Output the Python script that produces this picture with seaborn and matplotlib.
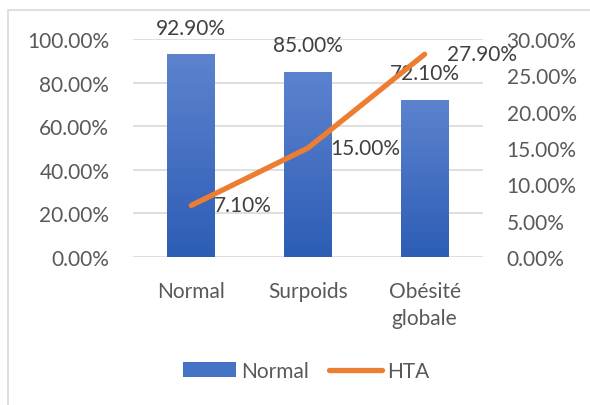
import numpy as np
import pandas as pd
import matplotlib
matplotlib.use("Agg")
import matplotlib.pyplot as plt
from matplotlib.patches import Rectangle, Patch
from matplotlib.lines import Line2D
from matplotlib.colors import LinearSegmentedColormap
from matplotlib.ticker import FuncFormatter, MultipleLocator
import seaborn as sns

# Data
categories = ["Normal", "Surpoids", "Obésité\nglobale"]
normal_pct = [92.9, 85.0, 72.1]
hta_pct = [7.1, 15.0, 27.9]

df = pd.DataFrame({"cat": categories, "normal": normal_pct, "hta": hta_pct,
                   "pos": np.arange(len(categories))})

sns.set_theme(style="white")
plt.rcParams["font.family"] = ["Lato", "DejaVu Sans"]

BLUE_TOP = "#5d83cf"
BLUE_BOT = "#2d5db5"
ORANGE = "#ed7d31"
GRID = "#d9d9d9"
TICK = "#595959"
LABEL = "#404040"

fig = plt.figure(figsize=(5.9, 4.06), dpi=100)
ax = fig.add_axes([0.2254, 0.3645, 0.5932, 0.537])

sns.barplot(data=df, x="cat", y="normal", color="#4472c4", width=0.41,
            ax=ax, saturation=1)

# Vertical gradient fill on each bar
cmap = LinearSegmentedColormap.from_list("bar", [BLUE_BOT, BLUE_TOP])
grad = np.linspace(0, 1, 256).reshape(-1, 1)
for p in ax.patches:
    x0, y0 = p.get_x(), p.get_y()
    w, h = p.get_width(), p.get_height()
    p.set_edgecolor("none")
    im = ax.imshow(grad, cmap=cmap, aspect="auto", origin="lower",
                   extent=(x0, x0 + w, y0, y0 + h), zorder=p.get_zorder() + 0.1)
    im.set_clip_path(p)

ax.set_xlim(-0.5, len(categories) - 0.5)
ax.set_ylim(0, 100)
ax.yaxis.set_major_locator(MultipleLocator(20))
ax.yaxis.set_major_formatter(FuncFormatter(lambda v, _: f"{v:.2f}%"))
ax.grid(axis="y", color=GRID, linewidth=1.2)
ax.set_axisbelow(True)
ax.set_xlabel("")
ax.set_ylabel("")
for s in ax.spines.values():
    s.set_visible(False)
ax.tick_params(axis="y", length=0, pad=17, labelsize=15, labelcolor=TICK)
ax.tick_params(axis="x", length=0, pad=17, labelsize=15, labelcolor=TICK)
for t in ax.get_xticklabels():
    t.set_linespacing(1.45)

for i, v in enumerate(normal_pct):
    ax.annotate(f"{v:.2f}%", (i, v), xytext=(0, 12), textcoords="offset points",
                ha="center", va="bottom", fontsize=15, color=LABEL)

# Secondary axis for HTA
ax2 = ax.twinx()
sns.lineplot(data=df, x="pos", y="hta", color=ORANGE, linewidth=3.8, ax=ax2,
             solid_capstyle="round", solid_joinstyle="round")
ax2.set_xlim(-0.5, len(categories) - 0.5)
ax2.set_ylim(0, 30)
ax2.yaxis.set_major_locator(MultipleLocator(5))
ax2.yaxis.set_major_formatter(FuncFormatter(lambda v, _: f"{v:.2f}%"))
ax2.set_ylabel("")
ax2.set_xlabel("")
for s in ax2.spines.values():
    s.set_visible(False)
ax2.tick_params(axis="y", length=0, pad=17, labelsize=15, labelcolor=TICK)

for i, v in enumerate(hta_pct):
    ax2.annotate(f"{v:.2f}%", (i, v), xytext=(16, 0), textcoords="offset points",
                 ha="left", va="center", fontsize=15, color=LABEL)

# Legend
handles = [Patch(facecolor="#4472c4", edgecolor="none"),
           Line2D([0], [0], color=ORANGE, linewidth=3.8, solid_capstyle="round")]
fig.legend(handles, ["Normal", "HTA"], loc="center", ncol=2, frameon=False,
           bbox_to_anchor=(0.519, 1 - 372 / 406), fontsize=15, labelcolor=TICK,
           handlelength=2.5, handleheight=0.7, handletextpad=0.25,
           columnspacing=1.0)

# Chart border
fig.patches.append(Rectangle((8 / 590, -0.1), 1.2, 1.1 - 11 / 406,
                             transform=fig.transFigure, fill=False,
                             edgecolor=GRID, linewidth=1.2))

fig.savefig("out.png", dpi=100)
